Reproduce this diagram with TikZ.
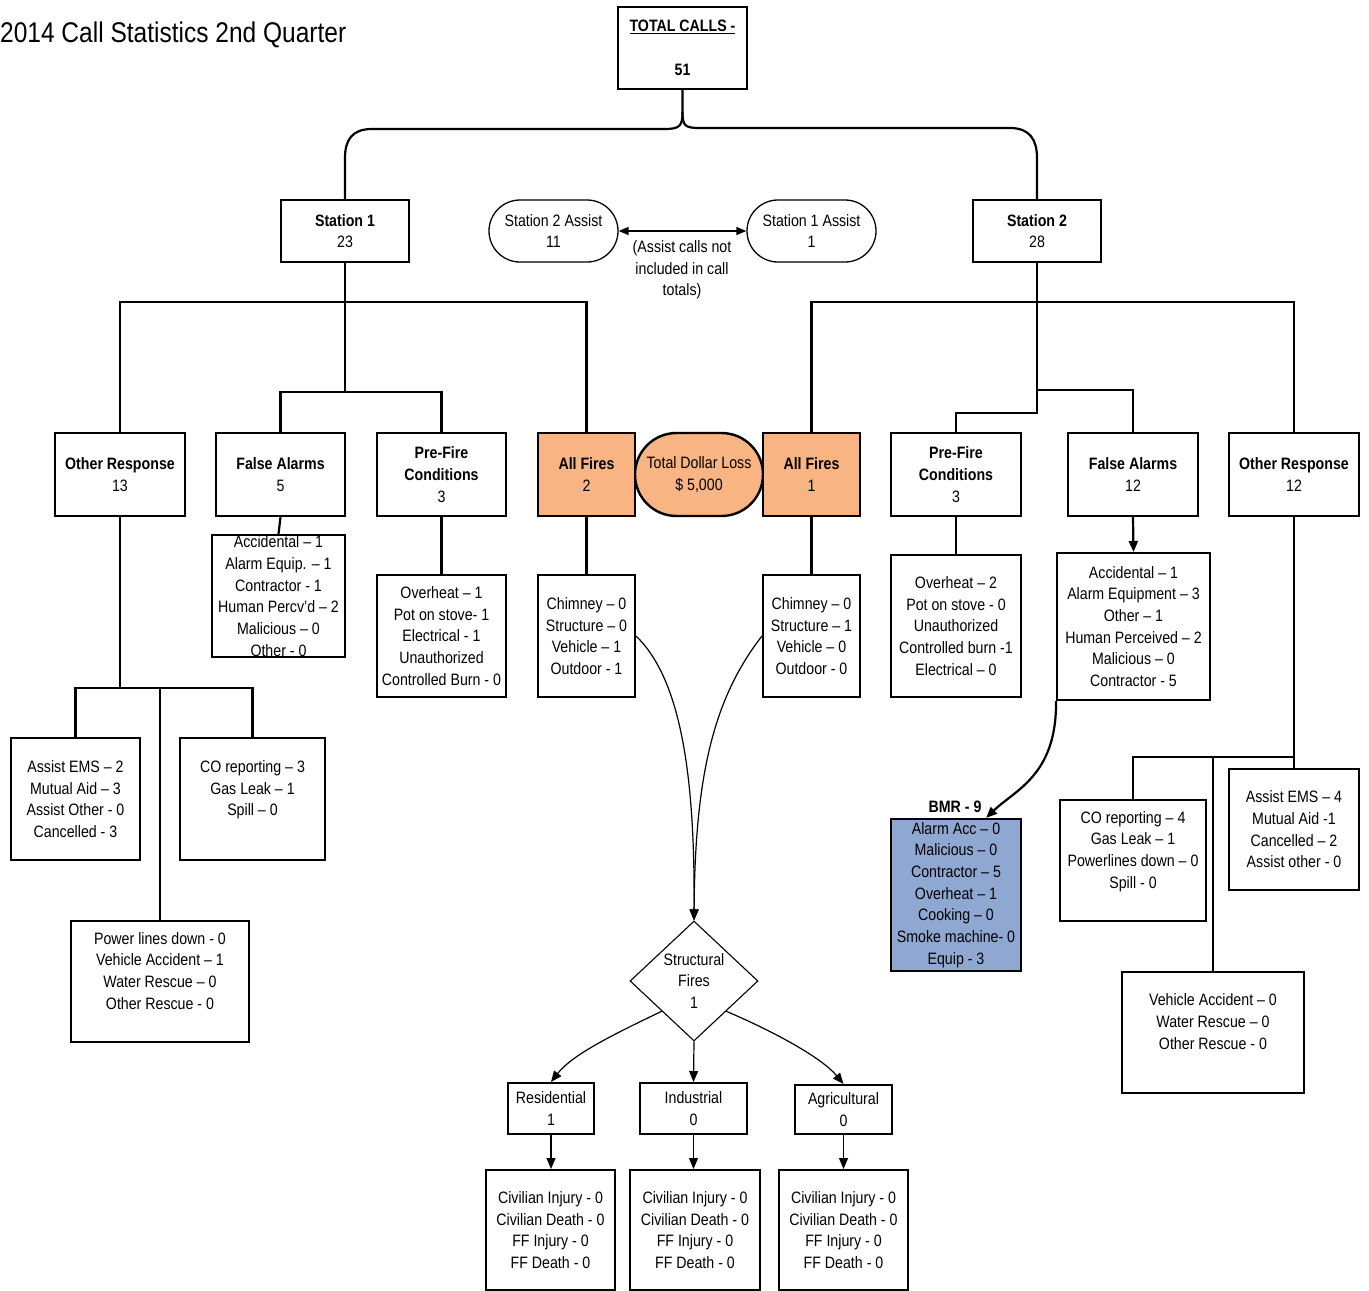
\documentclass[tikz,border=0pt]{standalone}
\usepackage{fontspec}
\setmainfont{Liberation Sans}[FakeStretch=0.86]
\usetikzlibrary{shapes.geometric,shapes.misc,arrows.meta}
\definecolor{fireorange}{RGB}{248,181,131}
\definecolor{bmrblue}{RGB}{143,168,210}
\begin{document}
\begin{tikzpicture}[x=1pt,y=-1pt,
  every node/.style={font=\fontsize{16.5}{21.7}\selectfont, inner sep=0pt, align=center},
  box/.style={draw, line width=2.4pt, rectangle, fill=white},
  thinbox/.style={draw, line width=2pt, rectangle, fill=white},
  firebox/.style={draw, line width=2.4pt, rectangle, fill=fireorange},
  pill/.style={draw, line width=1.3pt, rounded rectangle, fill=white},
  conn/.style={line width=2.2pt},
  thinconn/.style={line width=1.2pt},
  tip/.style={-{Triangle[length=11pt,width=9pt]}},
]
\useasboundingbox (0,0) rectangle (1369,1291);

% title
\node[anchor=west, font=\fontsize{28.5}{34}\selectfont] (title) at (0,35) {2014 Call Statistics 2nd Quarter};

% top
\node[box, minimum width=129pt, minimum height=82pt] (tc) at (682.5,48)
  {\underline{\textbf{TOTAL CALLS -}}\\[21.7pt]\textbf{51}};
\node[box, minimum width=128pt, minimum height=62pt] (st1) at (345,231) {\textbf{Station 1}\\23};
\node[box, minimum width=128pt, minimum height=62pt] (st2) at (1037,231) {\textbf{Station 2}\\28};
\node[pill, minimum width=129pt, minimum height=62pt] (as2) at (553.5,231) {Station 2 Assist\\11};
\node[pill, minimum width=129pt, minimum height=62pt] (as1) at (811.5,231) {Station 1 Assist\\1};
\node (note) at (682,270) {(Assist calls not\\included in call\\totals)};

\draw[conn] (tc.south) -- (682.5,112) .. controls (682.5,126) and (680,129) .. (664,129)
  -- (372,129) .. controls (352,129) and (345,140) .. (345,158) -- (st1.north);
\draw[conn] (682.5,112) .. controls (682.5,126) and (685,128) .. (700,128)
  -- (1010,128) .. controls (1030,128) and (1037,140) .. (1037,158) -- (st2.north);
\draw[line width=1.5pt, {Triangle[length=10pt,width=8pt]}-{Triangle[length=10pt,width=8pt]}] (as2.east) -- (as1.west);

% level 2
\node[box, minimum width=130pt, minimum height=83pt] (orL) at (120,474.5) {\textbf{Other Response}\\13};
\node[box, minimum width=129pt, minimum height=83pt] (faL) at (280.5,474.5) {\textbf{False Alarms}\\5};
\node[box, minimum width=129pt, minimum height=83pt] (pfL) at (441.5,474.5) {\textbf{Pre-Fire}\\\textbf{Conditions}\\3};
\node[firebox, minimum width=128pt, minimum height=83pt, rounded rectangle] (tdl) at (699,474.5) {Total Dollar Loss\\\$ 5,000};
\node[firebox, minimum width=97pt, minimum height=83pt] (afL) at (586.5,474.5) {\textbf{All Fires}\\2};
\node[firebox, minimum width=97pt, minimum height=83pt] (afR) at (811.5,474.5) {\textbf{All Fires}\\1};
\node[box, minimum width=130pt, minimum height=83pt] (pfR) at (956,474.5) {\textbf{Pre-Fire}\\\textbf{Conditions}\\3};
\node[box, minimum width=130pt, minimum height=83pt] (faR) at (1133,474.5) {\textbf{False Alarms}\\12};
\node[box, minimum width=130pt, minimum height=83pt] (orR) at (1294,474.5) {\textbf{Other Response}\\12};

% station trees
\draw[conn] (st1.south) -- (345,302) coordinate (j1);
\draw[conn] (orL.north) |- (j1) -| (afL.north);
\draw[conn] (j1) -- (345,392) coordinate (j2);
\draw[conn] (faL.north) |- (j2) -| (pfL.north);
\draw[conn] (st2.south) -- (1037,302) coordinate (k1);
\draw[conn] (afR.north) |- (k1) -| (orR.north);
\draw[conn] (k1) -- (1037,390) coordinate (k2) -| (faR.north);
\draw[conn] (k2) -- (1037,413) coordinate (k3) -| (pfR.north);

% level 3
\node[thinbox, minimum width=133pt, minimum height=122pt] (faLd) at (278.5,596) {};
\node (faLdt) at (faLd) {Accidental – 1\\Alarm Equip. – 1\\Contractor - 1\\Human Percv'd – 2\\Malicious – 0\\Other - 0};
\node[thinbox, minimum width=129pt, minimum height=122pt] (pfLd) at (441.5,636) {Overheat – 1\\Pot on stove- 1\\Electrical - 1\\Unauthorized\\Controlled Burn - 0};
\node[thinbox, minimum width=97pt, minimum height=122pt] (afLd) at (586.5,636) {Chimney – 0\\Structure – 0\\Vehicle – 1\\Outdoor - 1};
\node[thinbox, minimum width=97pt, minimum height=122pt] (afRd) at (811.5,636) {Chimney – 0\\Structure – 1\\Vehicle – 0\\Outdoor - 0};
\node[thinbox, minimum width=130pt, minimum height=142pt] (pfRd) at (956,626) {Overheat – 2\\Pot on stove - 0\\Unauthorized\\Controlled burn -1\\Electrical – 0};
\node[thinbox, minimum width=153pt, minimum height=147pt] (faRd) at (1133.5,626.5) {Accidental – 1\\Alarm Equipment – 3\\Other – 1\\Human Perceived – 2\\Malicious – 0\\Contractor - 5};

\draw[conn] (faL.south) -- (faLd.north);
\draw[conn] (pfL.south) -- (pfLd.north);
\draw[conn] (afL.south) -- (afLd.north);
\draw[conn] (afR.south) -- (afRd.north);
\draw[conn] (pfR.south) -- (pfRd.north);
\draw[conn, tip] (faR.south) -- (faRd.north);

% other response left subtree
\node[thinbox, minimum width=129pt, minimum height=122pt] (aemsL) at (75.5,799) {Assist EMS – 2\\Mutual Aid – 3\\Assist Other - 0\\Cancelled - 3};
\node[thinbox, minimum width=145pt, minimum height=122pt] (coL) at (252.5,799) {CO reporting – 3\\Gas Leak – 1\\Spill – 0\\~};
\node[thinbox, minimum width=178pt, minimum height=121pt] (plL) at (160,981.5) {Power lines down - 0\\Vehicle Accident – 1\\Water Rescue – 0\\Other Rescue - 0\\~};
\draw[conn] (orL.south) -- (120,688) coordinate (m1);
\draw[conn] (aemsL.north) |- (m1) -| (coL.north);
\draw[conn] (plL.north |- m1) -- (plL.north);

% other response right subtree
\node[thinbox, minimum width=146pt, minimum height=121pt] (coR) at (1133,860.5) {CO reporting – 4\\Gas Leak – 1\\Powerlines down – 0\\Spill - 0\\~};
\node[thinbox, minimum width=130pt, minimum height=121pt] (aemsR) at (1294,829.5) {Assist EMS – 4\\Mutual Aid -1\\Cancelled – 2\\Assist other - 0};
\node[thinbox, minimum width=182pt, minimum height=121pt] (vR) at (1213,1032.5) {Vehicle Accident – 0\\Water Rescue – 0\\Other Rescue - 0\\~};
\draw[conn] (orR.south) -- (1294,757) coordinate (n1) -- (aemsR.north);
\draw[conn] (n1) -| (coR.north);
\draw[conn] (vR.north |- n1) -- (vR.north);

% BMR
\node[draw, line width=2.2pt, fill=bmrblue, minimum width=130pt, minimum height=152pt] (bmr) at (956,895) {};
\node (bmrt) at (bmr) {Alarm Acc – 0\\Malicious – 0\\Contractor – 5\\Overheat – 1\\Cooking – 0\\Smoke machine- 0\\Equip - 3};
\node (bmrlabel) at (955,807) {\textbf{BMR - 9}};
\draw[conn, tip] (faRd.south west) .. controls (1057,775) and (1015,790) .. ([xshift=-36pt]bmr.north east);

% structural fires
\node[draw, diamond, line width=1.1pt, minimum width=128pt, minimum height=120pt, fill=white] (sf) at (694,981) {};
\node (sft) at (sf) {Structural\\Fires\\1};
\draw[thinconn, tip] (afLd.east) .. controls (682,680) and (695,780) .. (sf.north);
\draw[thinconn, tip] (afRd.west) .. controls (712,700) and (695,780) .. (sf.north);

\node[thinbox, minimum width=86pt, minimum height=51pt] (res) at (551,1108.5) {Residential\\1};
\node[thinbox, minimum width=107pt, minimum height=51pt] (ind) at (693.5,1108.5) {Industrial\\0};
\node[thinbox, minimum width=97pt, minimum height=49pt] (agr) at (843.5,1109.5) {Agricultural\\0};
\draw[thinconn, tip] (sf.south west) .. controls (612,1035) and (572,1055) .. (res.north);
\draw[thinconn, tip] (sf.south) -- (ind.north);
\draw[thinconn, tip] (sf.south east) .. controls (775,1032) and (822,1058) .. (agr.north);

\node[thinbox, minimum width=129pt, minimum height=120pt] (bL) at (550.5,1230) {Civilian Injury - 0\\Civilian Death - 0\\FF Injury - 0\\FF Death - 0};
\node[thinbox, minimum width=130pt, minimum height=120pt] (bM) at (695,1230) {Civilian Injury - 0\\Civilian Death - 0\\FF Injury - 0\\FF Death - 0};
\node[thinbox, minimum width=129pt, minimum height=120pt] (bR) at (843.5,1230) {Civilian Injury - 0\\Civilian Death - 0\\FF Injury - 0\\FF Death - 0};
\draw[thinconn, tip] (res.south) -- (res.south |- bL.north);
\draw[thinconn, tip] (ind.south) -- (ind.south |- bM.north);
\draw[thinconn, tip] (agr.south) -- (agr.south |- bR.north);
\end{tikzpicture}
\end{document}
